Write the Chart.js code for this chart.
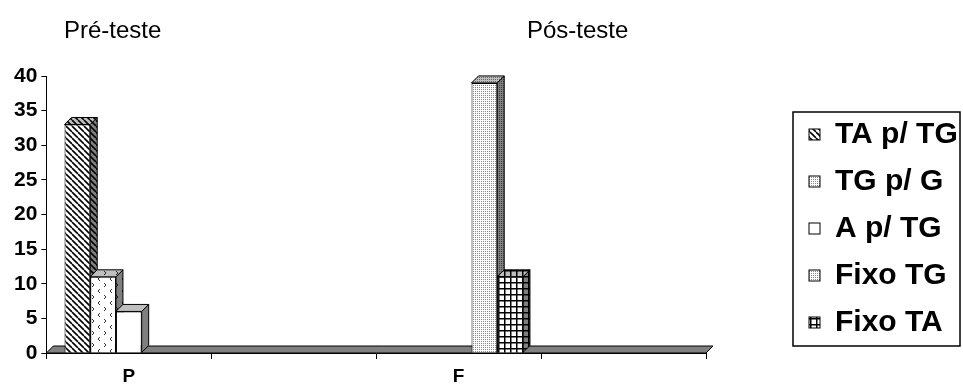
<!DOCTYPE html>
<html>
<head>
<meta charset="utf-8">
<script src="https://cdn.jsdelivr.net/npm/chart.js@4.4.1/dist/chart.umd.min.js"></script>
<style>
  html, body { margin: 0; padding: 0; background: #fff; }
  canvas { display: block; }
</style>
</head>
<body>
<canvas id="grafico" width="963" height="385"></canvas>
<script>
// categorias do eixo X (só P e F têm rótulo)
const categorias = ['P', '', 'F', ''];
const series = ['TA p/ TG', 'TG p/ G', 'A p/ TG', 'Fixo TG', 'Fixo TA'];
const taTg = [33, null, null, null];
const tgG = [11, null, null, null];
const aTg = [6, null, null, null];
const fixoTg = [null, null, 39, null];
const fixoTa = [null, null, 11, null];
const yTicks = [0, 5, 10, 15, 20, 25, 30, 35, 40];
const titulos = ['Pré-teste', 'Pós-teste'];

const FONTE = 'Arial, "Liberation Sans", Helvetica, sans-serif';
const PROF = 7; // profundidade do efeito 3D

// padrões de preenchimento em preto e branco
function tile(size, desenhar) {
  const c = document.createElement('canvas');
  c.width = size; c.height = size;
  const g = c.getContext('2d');
  g.fillStyle = '#fff';
  g.fillRect(0, 0, size, size);
  desenhar(g, size);
  return g.createPattern(c, 'repeat');
}

const listras = tile(6, (g, s) => {
  g.strokeStyle = '#000';
  g.lineWidth = 1.6;
  for (let i = -s; i <= s; i += s) {
    g.beginPath();
    g.moveTo(i, 0);
    g.lineTo(i + s, s);
    g.stroke();
  }
});
const setas = tile(12, (g) => {
  g.strokeStyle = '#333';
  g.lineWidth = 1;
  g.beginPath();
  g.moveTo(4, 1); g.lineTo(2, 3); g.lineTo(4, 5);
  g.moveTo(8, 7); g.lineTo(10, 9); g.lineTo(8, 11);
  g.stroke();
});
const pontos = tile(2, (g) => {
  g.fillStyle = '#888';
  g.fillRect(1, 1, 1, 1);
});
const grade = tile(6, (g, s) => {
  g.fillStyle = '#000';
  g.fillRect(0, 0, s, 1.5);
  g.fillRect(0, 0, 1.5, s);
});

const cores = [listras, setas, '#fff', pontos, grade];
const legendaCores = [listras, pontos, '#fff', pontos, grade];

function poligono(ctx, pts, fill, sombra) {
  ctx.beginPath();
  ctx.moveTo(pts[0][0], pts[0][1]);
  for (let i = 1; i < pts.length; i++) ctx.lineTo(pts[i][0], pts[i][1]);
  ctx.closePath();
  ctx.fillStyle = fill;
  ctx.fill();
  if (sombra) {
    ctx.fillStyle = sombra;
    ctx.fill();
  }
  ctx.strokeStyle = '#000';
  ctx.lineWidth = 1;
  ctx.stroke();
}

// piso cinza e faces laterais/superiores das barras
const efeito3d = {
  id: 'efeito3d',
  beforeDatasetsDraw(chart) {
    const ctx = chart.ctx;
    const a = chart.chartArea;
    ctx.save();
    poligono(ctx, [
      [a.left, a.bottom], [a.right, a.bottom],
      [a.right + PROF, a.bottom - PROF], [a.left + PROF, a.bottom - PROF]
    ], '#808080');
    chart.data.datasets.forEach((ds, i) => {
      const meta = chart.getDatasetMeta(i);
      meta.data.forEach((bar, j) => {
        if (ds.data[j] == null) return;
        const l = bar.x - bar.width / 2, r = bar.x + bar.width / 2;
        const t = bar.y, b = bar.base;
        poligono(ctx, [[r, t], [r + PROF, t - PROF], [r + PROF, b - PROF], [r, b]],
          ds.backgroundColor, 'rgba(0,0,0,0.5)');
        poligono(ctx, [[l, t], [l + PROF, t - PROF], [r + PROF, t - PROF], [r, t]],
          ds.backgroundColor, 'rgba(0,0,0,0.25)');
      });
    });
    ctx.restore();
  },
  afterDraw(chart) {
    const ctx = chart.ctx;
    ctx.save();
    // títulos acima dos grupos
    ctx.fillStyle = '#000';
    ctx.font = '24px ' + FONTE;
    ctx.textBaseline = 'alphabetic';
    ctx.fillText(titulos[0], 64, 38);
    ctx.fillText(titulos[1], 527, 38);

    // legenda com moldura
    const lx = 793, ly = 112, lw = 167, lh = 234;
    ctx.strokeStyle = '#000';
    ctx.lineWidth = 1.5;
    ctx.strokeRect(lx, ly, lw, lh);
    ctx.font = 'bold 30px ' + FONTE;
    ctx.textBaseline = 'middle';
    series.forEach((nome, i) => {
      const cy = ly + 23 + i * 47;
      ctx.fillStyle = legendaCores[i];
      ctx.fillRect(809, cy - 6, 11, 11);
      ctx.lineWidth = 1;
      ctx.strokeRect(809, cy - 6, 11, 11);
      ctx.fillStyle = '#000';
      ctx.fillText(nome, 835, cy);
    });
    ctx.restore();
  }
};

const valores = [taTg, tgG, aTg, fixoTg, fixoTa];

new Chart(document.getElementById('grafico'), {
  type: 'bar',
  data: {
    labels: categorias,
    datasets: series.map((nome, i) => ({
      label: nome,
      data: valores[i],
      backgroundColor: cores[i],
      borderColor: '#000',
      borderWidth: 1,
      categoryPercentage: 0.78,
      barPercentage: 1
    }))
  },
  options: {
    responsive: false,
    animation: false,
    devicePixelRatio: 1,
    layout: { padding: { left: 10, right: 257, top: 76, bottom: -9 } },
    plugins: {
      legend: { display: false },
      tooltip: { enabled: false }
    },
    scales: {
      x: {
        grid: { offset: true, drawOnChartArea: false, tickLength: 6, color: '#000' },
        border: { color: '#000', width: 1 },
        ticks: { color: '#000', padding: 8, font: { family: FONTE, size: 19, weight: 'bold', lineHeight: 1 } }
      },
      y: {
        min: 0,
        max: 40,
        afterBuildTicks: (axis) => { axis.ticks = yTicks.map(v => ({ value: v })); },
        grid: { drawOnChartArea: false, tickLength: 5, color: '#000' },
        border: { color: '#000', width: 1 },
        ticks: { color: '#000', padding: 4, font: { family: FONTE, size: 21, weight: 'bold' } }
      }
    }
  },
  plugins: [efeito3d]
});
</script>
</body>
</html>
